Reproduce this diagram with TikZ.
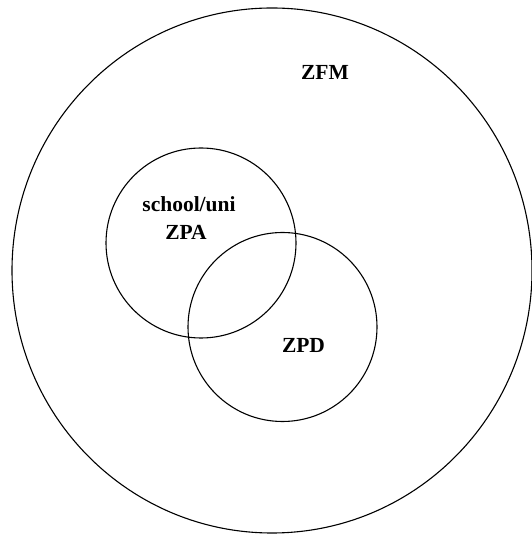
\documentclass[tikz,border=0pt]{standalone}
\usepackage{fontspec}
\setmainfont{Liberation Serif}
\begin{document}
\begin{tikzpicture}[x=1pt,y=1pt,
  ring/.style={draw=black, line width=1.1pt},
  lbl/.style={font=\fontsize{21.5}{26}\selectfont\bfseries, anchor=base, inner sep=0pt}]
\useasboundingbox (0,0) rectangle (532,535);
\draw[ring] (272,264.5) ellipse [x radius=260, y radius=262.5];
\draw[ring] (201,292) circle [radius=95];
\draw[ring] (282.5,208) circle [radius=94.5];
\node[lbl] (zfm) at (325,455) {ZFM};
\node[lbl] (school) at (189,323) {school/uni};
\node[lbl] (zpa) at (186,295) {ZPA};
\node[lbl] (zpd) at (303.5,182) {ZPD};
\end{tikzpicture}
\end{document}
